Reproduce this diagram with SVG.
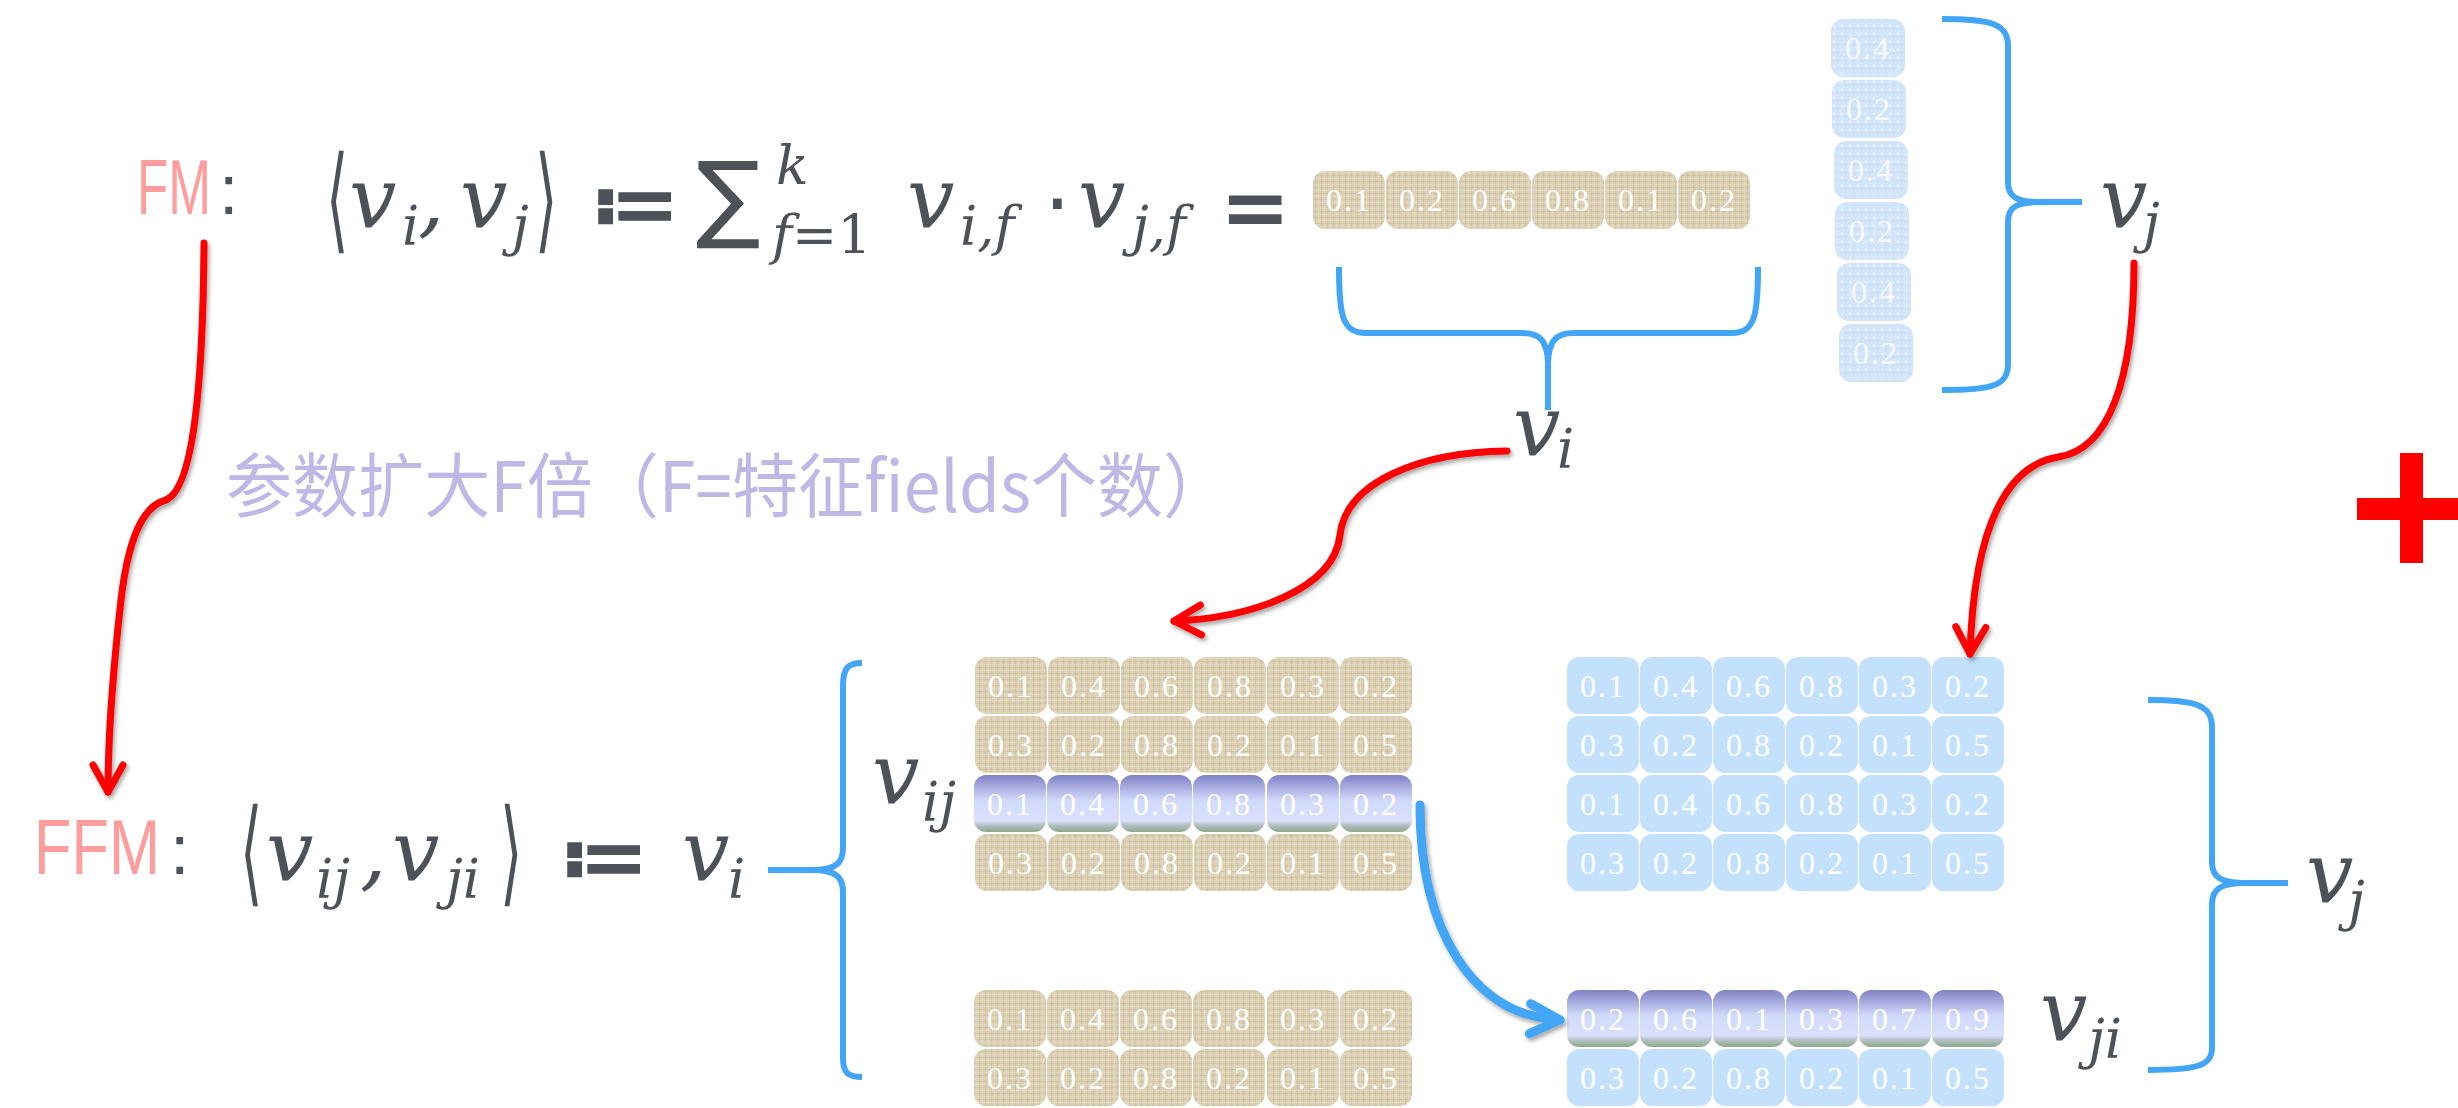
<svg xmlns="http://www.w3.org/2000/svg" width="2458" height="1108" viewBox="0 0 2458 1108">
<defs>
<style>
.pink{font-family:"Liberation Sans",sans-serif;font-size:78px;fill:#ff9c9c}
.col{font-family:"Liberation Sans",sans-serif;font-size:70px;fill:#4d5259}
.m{font-family:"DejaVu Serif",serif;font-style:italic;font-size:84px;fill:#4d5259}
.ms{font-family:"DejaVu Serif",serif;font-style:italic;font-size:54px;fill:#4d5259}
.mu{font-family:"DejaVu Sans",sans-serif;fill:#4d5259}
.n{font-family:"Liberation Serif",serif;font-size:32px;fill:#ffffff;text-anchor:middle;letter-spacing:2px}
.nf{font-family:"Liberation Serif",serif;font-size:32px;fill:#ffffff;fill-opacity:0.8;text-anchor:middle;letter-spacing:2px}
.br{fill:url(#linen)}
.bl{fill:#c3e1fc}
.bf{fill:url(#frost)}
.pu{fill:url(#purp)}
.brace{fill:none;stroke:#42a5f5;stroke-width:6;stroke-linejoin:round}
.red{fill:none;stroke:#ff0000;stroke-width:7;stroke-linecap:round;filter:url(#sh)}
.blue{fill:none;stroke:#42a5f5;stroke-width:9;stroke-linecap:round;filter:url(#sh)}
.cn{font-family:"Noto Sans CJK SC","Noto Sans",sans-serif;font-size:70px;fill:#bfb7e6}
</style>
<pattern id="linen" width="6" height="6" patternUnits="userSpaceOnUse">
<rect width="6" height="6" fill="#dcd1b6"/>
<path d="M0,1.5H6M1.5,0V6" stroke="#c8b994" stroke-width="1" opacity="0.6"/>
<path d="M0,4.5H6M4.5,0V6" stroke="#e6dcc6" stroke-width="1" opacity="0.6"/>
</pattern>
<pattern id="frost" width="8" height="8" patternUnits="userSpaceOnUse">
<rect width="8" height="8" fill="#d3e5f8"/>
<circle cx="2" cy="2" r="1.2" fill="#e6f0fb"/>
<circle cx="6" cy="5" r="1" fill="#c6dcf3"/>
</pattern>
<linearGradient id="purp" x1="0" y1="0" x2="0" y2="1">
<stop offset="0" stop-color="#7f81c3"/>
<stop offset="0.18" stop-color="#a2a6dc"/>
<stop offset="0.45" stop-color="#d2dafb"/>
<stop offset="0.8" stop-color="#d8e0fd"/>
<stop offset="0.88" stop-color="#b3c1c2"/>
<stop offset="1" stop-color="#8ea68f"/>
</linearGradient>
<filter id="sh" x="-20%" y="-20%" width="140%" height="140%">
<feDropShadow dx="2" dy="3" stdDeviation="2" flood-color="#000" flood-opacity="0.35"/>
</filter>
<marker id="rh" markerUnits="userSpaceOnUse" viewBox="-40 -30 50 60" markerWidth="50" markerHeight="60" refX="0" refY="0" orient="auto" overflow="visible">
<path d="M-27,-15L0,0L-27,15" fill="none" stroke="#ff0000" stroke-width="7" stroke-linecap="round" stroke-linejoin="round"/>
</marker>
<marker id="bh" markerUnits="userSpaceOnUse" viewBox="-40 -30 50 60" markerWidth="50" markerHeight="60" refX="0" refY="0" orient="auto" overflow="visible">
<path d="M-30,-15L0,0L-30,15" fill="none" stroke="#42a5f5" stroke-width="9" stroke-linecap="round" stroke-linejoin="round"/>
</marker>
</defs>
<rect width="2458" height="1108" fill="#ffffff"/>

<g id="fm-formula">
<text class="pink" x="137" y="214" textLength="74" lengthAdjust="spacingAndGlyphs">FM</text>
<text class="col" x="219" y="214">:</text>
<text class="mu" font-size="115" transform="translate(326,238) scale(0.5,1)">⟨</text>
<text class="m" x="349" y="227">v</text>
<text class="ms" x="402" y="245">i</text>
<text class="m" x="418" y="227">,</text>
<text class="m" x="460" y="227">v</text>
<text class="ms" x="512" y="245">j</text>
<text class="mu" font-size="115" transform="translate(535,238) scale(0.5,1)">⟩</text>
<text class="mu" font-size="84" font-weight="bold" x="590" y="233">≔</text>
<text class="mu" font-size="96" x="696" y="230">∑</text>
<text class="ms" x="776" y="184">k</text>
<text class="ms" font-size="60" x="772" y="254">f<tspan font-style="normal">=1</tspan></text>
<text class="m" x="907" y="227">v</text>
<text class="ms" x="960" y="245">i,f</text>
<text class="mu" font-size="84" x="1044" y="233">·</text>
<text class="m" x="1078" y="227">v</text>
<text class="ms" x="1132" y="245">j,f</text>
<text class="mu" font-size="84" font-weight="bold" x="1220" y="236">=</text>
</g>

<g id="vi-vector">
<rect class="br" x="1313" y="171" width="72" height="58" rx="12"/>
<rect class="br" x="1386" y="171" width="72" height="58" rx="12"/>
<rect class="br" x="1459" y="171" width="72" height="58" rx="12"/>
<rect class="br" x="1532" y="171" width="72" height="58" rx="12"/>
<rect class="br" x="1605" y="171" width="72" height="58" rx="12"/>
<rect class="br" x="1678" y="171" width="72" height="58" rx="12"/>
<text class="n" x="1349" y="211">0.1</text>
<text class="n" x="1422" y="211">0.2</text>
<text class="n" x="1495" y="211">0.6</text>
<text class="n" x="1568" y="211">0.8</text>
<text class="n" x="1641" y="211">0.1</text>
<text class="n" x="1714" y="211">0.2</text>
</g>

<g id="vj-vector">
<rect class="bf" x="1831" y="19" width="74" height="58" rx="12"/>
<rect class="bf" x="1832" y="80" width="74" height="58" rx="12"/>
<rect class="bf" x="1834" y="141" width="74" height="58" rx="12"/>
<rect class="bf" x="1835" y="202" width="74" height="58" rx="12"/>
<rect class="bf" x="1837" y="263" width="74" height="58" rx="12"/>
<rect class="bf" x="1839" y="324" width="74" height="58" rx="12"/>
<text class="nf" x="1868" y="59">0.4</text>
<text class="nf" x="1869" y="120">0.2</text>
<text class="nf" x="1871" y="181">0.4</text>
<text class="nf" x="1872" y="242">0.2</text>
<text class="nf" x="1874" y="303">0.4</text>
<text class="nf" x="1876" y="364">0.2</text>
</g>

<g id="label-vi-top">
<text class="m" font-size="72" x="1513" y="455">v</text>
<text class="ms" font-size="46" x="1557" y="468">i</text>
</g>
<g id="label-vj-top">
<text class="m" font-size="72" x="2100" y="227">v</text>
<text class="ms" font-size="46" x="2143" y="242">j</text>
</g>

<g id="note">
<text class="cn" x="226" y="512" textLength="1003" lengthAdjust="spacingAndGlyphs">参数扩大F倍（F=特征fields个数）</text>
</g>

<g id="plus">
<rect x="2400" y="453" width="23" height="110" fill="#ff0000"/>
<rect x="2357" y="498" width="101" height="22" fill="#ff0000"/>
</g>

<g id="ffm-formula">
<text class="pink" x="34" y="874" textLength="126" lengthAdjust="spacingAndGlyphs">FFM</text>
<text class="col" x="170" y="874">:</text>
<text class="mu" font-size="115" transform="translate(240,891) scale(0.5,1)">⟨</text>
<text class="m" x="266" y="880">v</text>
<text class="ms" x="316" y="898">ij</text>
<text class="m" x="360" y="880">,</text>
<text class="m" x="392" y="880">v</text>
<text class="ms" x="446" y="898">ji</text>
<text class="mu" font-size="115" transform="translate(500,891) scale(0.5,1)">⟩</text>
<text class="mu" font-size="84" font-weight="bold" x="559" y="886">≔</text>
<text class="m" font-size="76" x="682" y="880">v</text>
<text class="ms" font-size="48" x="728" y="898">i</text>
</g>

<g id="vij-matrix">
<rect class="br" x="975" y="657" width="72" height="57" rx="12"/>
<rect class="br" x="1048" y="657" width="72" height="57" rx="12"/>
<rect class="br" x="1121" y="657" width="72" height="57" rx="12"/>
<rect class="br" x="1194" y="657" width="72" height="57" rx="12"/>
<rect class="br" x="1267" y="657" width="72" height="57" rx="12"/>
<rect class="br" x="1340" y="657" width="72" height="57" rx="12"/>
<rect class="br" x="975" y="716" width="72" height="57" rx="12"/>
<rect class="br" x="1048" y="716" width="72" height="57" rx="12"/>
<rect class="br" x="1121" y="716" width="72" height="57" rx="12"/>
<rect class="br" x="1194" y="716" width="72" height="57" rx="12"/>
<rect class="br" x="1267" y="716" width="72" height="57" rx="12"/>
<rect class="br" x="1340" y="716" width="72" height="57" rx="12"/>
<rect class="pu" x="974" y="775" width="72" height="57" rx="12"/>
<rect class="pu" x="1047" y="775" width="72" height="57" rx="12"/>
<rect class="pu" x="1120" y="775" width="72" height="57" rx="12"/>
<rect class="pu" x="1193" y="775" width="72" height="57" rx="12"/>
<rect class="pu" x="1267" y="775" width="72" height="57" rx="12"/>
<rect class="pu" x="1340" y="775" width="72" height="57" rx="12"/>
<rect class="br" x="975" y="834" width="72" height="57" rx="12"/>
<rect class="br" x="1048" y="834" width="72" height="57" rx="12"/>
<rect class="br" x="1121" y="834" width="72" height="57" rx="12"/>
<rect class="br" x="1194" y="834" width="72" height="57" rx="12"/>
<rect class="br" x="1267" y="834" width="72" height="57" rx="12"/>
<rect class="br" x="1340" y="834" width="72" height="57" rx="12"/>
<rect class="br" x="974" y="990" width="72" height="57" rx="12"/>
<rect class="br" x="1047" y="990" width="72" height="57" rx="12"/>
<rect class="br" x="1120" y="990" width="72" height="57" rx="12"/>
<rect class="br" x="1193" y="990" width="72" height="57" rx="12"/>
<rect class="br" x="1267" y="990" width="72" height="57" rx="12"/>
<rect class="br" x="1340" y="990" width="72" height="57" rx="12"/>
<rect class="br" x="974" y="1049" width="72" height="57" rx="12"/>
<rect class="br" x="1047" y="1049" width="72" height="57" rx="12"/>
<rect class="br" x="1120" y="1049" width="72" height="57" rx="12"/>
<rect class="br" x="1193" y="1049" width="72" height="57" rx="12"/>
<rect class="br" x="1267" y="1049" width="72" height="57" rx="12"/>
<rect class="br" x="1340" y="1049" width="72" height="57" rx="12"/>
<text class="n" x="1011" y="697">0.1</text><text class="n" x="1084" y="697">0.4</text><text class="n" x="1157" y="697">0.6</text><text class="n" x="1230" y="697">0.8</text><text class="n" x="1303" y="697">0.3</text><text class="n" x="1376" y="697">0.2</text>
<text class="n" x="1011" y="756">0.3</text><text class="n" x="1084" y="756">0.2</text><text class="n" x="1157" y="756">0.8</text><text class="n" x="1230" y="756">0.2</text><text class="n" x="1303" y="756">0.1</text><text class="n" x="1376" y="756">0.5</text>
<text class="n" x="1010" y="815">0.1</text><text class="n" x="1083" y="815">0.4</text><text class="n" x="1156" y="815">0.6</text><text class="n" x="1229" y="815">0.8</text><text class="n" x="1303" y="815">0.3</text><text class="n" x="1376" y="815">0.2</text>
<text class="n" x="1011" y="874">0.3</text><text class="n" x="1084" y="874">0.2</text><text class="n" x="1157" y="874">0.8</text><text class="n" x="1230" y="874">0.2</text><text class="n" x="1303" y="874">0.1</text><text class="n" x="1376" y="874">0.5</text>
<text class="n" x="1010" y="1030">0.1</text><text class="n" x="1083" y="1030">0.4</text><text class="n" x="1156" y="1030">0.6</text><text class="n" x="1229" y="1030">0.8</text><text class="n" x="1303" y="1030">0.3</text><text class="n" x="1376" y="1030">0.2</text>
<text class="n" x="1010" y="1089">0.3</text><text class="n" x="1083" y="1089">0.2</text><text class="n" x="1156" y="1089">0.8</text><text class="n" x="1229" y="1089">0.2</text><text class="n" x="1303" y="1089">0.1</text><text class="n" x="1376" y="1089">0.5</text>
</g>

<g id="label-vij">
<text class="m" x="872" y="803">v</text>
<text class="ms" x="922" y="821">ij</text>
</g>

<g id="vji-matrix">
<rect class="bl" x="1567" y="657" width="72" height="57" rx="12"/>
<rect class="bl" x="1640" y="657" width="72" height="57" rx="12"/>
<rect class="bl" x="1713" y="657" width="72" height="57" rx="12"/>
<rect class="bl" x="1786" y="657" width="72" height="57" rx="12"/>
<rect class="bl" x="1859" y="657" width="72" height="57" rx="12"/>
<rect class="bl" x="1932" y="657" width="72" height="57" rx="12"/>
<rect class="bl" x="1567" y="716" width="72" height="57" rx="12"/>
<rect class="bl" x="1640" y="716" width="72" height="57" rx="12"/>
<rect class="bl" x="1713" y="716" width="72" height="57" rx="12"/>
<rect class="bl" x="1786" y="716" width="72" height="57" rx="12"/>
<rect class="bl" x="1859" y="716" width="72" height="57" rx="12"/>
<rect class="bl" x="1932" y="716" width="72" height="57" rx="12"/>
<rect class="bl" x="1567" y="775" width="72" height="57" rx="12"/>
<rect class="bl" x="1640" y="775" width="72" height="57" rx="12"/>
<rect class="bl" x="1713" y="775" width="72" height="57" rx="12"/>
<rect class="bl" x="1786" y="775" width="72" height="57" rx="12"/>
<rect class="bl" x="1859" y="775" width="72" height="57" rx="12"/>
<rect class="bl" x="1932" y="775" width="72" height="57" rx="12"/>
<rect class="bl" x="1567" y="834" width="72" height="57" rx="12"/>
<rect class="bl" x="1640" y="834" width="72" height="57" rx="12"/>
<rect class="bl" x="1713" y="834" width="72" height="57" rx="12"/>
<rect class="bl" x="1786" y="834" width="72" height="57" rx="12"/>
<rect class="bl" x="1859" y="834" width="72" height="57" rx="12"/>
<rect class="bl" x="1932" y="834" width="72" height="57" rx="12"/>
<rect class="pu" x="1567" y="990" width="72" height="57" rx="12"/>
<rect class="pu" x="1640" y="990" width="72" height="57" rx="12"/>
<rect class="pu" x="1713" y="990" width="72" height="57" rx="12"/>
<rect class="pu" x="1786" y="990" width="72" height="57" rx="12"/>
<rect class="pu" x="1859" y="990" width="72" height="57" rx="12"/>
<rect class="pu" x="1932" y="990" width="72" height="57" rx="12"/>
<rect class="bl" x="1567" y="1049" width="72" height="57" rx="12"/>
<rect class="bl" x="1640" y="1049" width="72" height="57" rx="12"/>
<rect class="bl" x="1713" y="1049" width="72" height="57" rx="12"/>
<rect class="bl" x="1786" y="1049" width="72" height="57" rx="12"/>
<rect class="bl" x="1859" y="1049" width="72" height="57" rx="12"/>
<rect class="bl" x="1932" y="1049" width="72" height="57" rx="12"/>
<text class="n" x="1603" y="697">0.1</text><text class="n" x="1676" y="697">0.4</text><text class="n" x="1749" y="697">0.6</text><text class="n" x="1822" y="697">0.8</text><text class="n" x="1895" y="697">0.3</text><text class="n" x="1968" y="697">0.2</text>
<text class="n" x="1603" y="756">0.3</text><text class="n" x="1676" y="756">0.2</text><text class="n" x="1749" y="756">0.8</text><text class="n" x="1822" y="756">0.2</text><text class="n" x="1895" y="756">0.1</text><text class="n" x="1968" y="756">0.5</text>
<text class="n" x="1603" y="815">0.1</text><text class="n" x="1676" y="815">0.4</text><text class="n" x="1749" y="815">0.6</text><text class="n" x="1822" y="815">0.8</text><text class="n" x="1895" y="815">0.3</text><text class="n" x="1968" y="815">0.2</text>
<text class="n" x="1603" y="874">0.3</text><text class="n" x="1676" y="874">0.2</text><text class="n" x="1749" y="874">0.8</text><text class="n" x="1822" y="874">0.2</text><text class="n" x="1895" y="874">0.1</text><text class="n" x="1968" y="874">0.5</text>
<text class="n" x="1603" y="1030">0.2</text><text class="n" x="1676" y="1030">0.6</text><text class="n" x="1749" y="1030">0.1</text><text class="n" x="1822" y="1030">0.3</text><text class="n" x="1895" y="1030">0.7</text><text class="n" x="1968" y="1030">0.9</text>
<text class="n" x="1603" y="1089">0.3</text><text class="n" x="1676" y="1089">0.2</text><text class="n" x="1749" y="1089">0.8</text><text class="n" x="1822" y="1089">0.2</text><text class="n" x="1895" y="1089">0.1</text><text class="n" x="1968" y="1089">0.5</text>
</g>

<g id="label-vji">
<text class="m" x="2040" y="1040">v</text>
<text class="ms" x="2088" y="1058">ji</text>
</g>
<g id="label-vj-bottom">
<text class="m" x="2306" y="902">v</text>
<text class="ms" x="2348" y="920">j</text>
</g>

<g id="connectors">
<path class="brace" d="M1339,267C1339,315 1342,333 1366,333L1522,333C1541,333 1547,342 1548,362L1548,410M1548,362C1549,342 1555,333 1574,333L1732,333C1755,333 1758,315 1758,267"/>
<path class="brace" d="M1942,19C1992,19 2008,24 2008,46L2008,182C2008,198 2018,202 2040,202L2082,202M2040,202C2018,202 2008,206 2008,222L2008,364C2008,386 1992,390 1942,390"/>
<path class="brace" d="M862,663C848,663 843,668 843,686L843,848C843,863 836,870 812,870L768,870M812,870C836,870 843,877 843,892L843,1058C843,1073 848,1077 862,1077"/>
<path class="brace" d="M2148,700C2196,700 2212,705 2212,727L2212,862C2212,878 2222,883 2246,883L2288,883M2246,883C2222,883 2212,888 2212,904L2212,1048C2212,1066 2196,1070 2148,1070"/>
<path class="red" marker-end="url(#rh)" d="M204,243C203,380 194,488 166,500C150,504 130,522 121,600C113,670 108,730 108,792"/>
<path class="red" marker-end="url(#rh)" d="M1507,451C1420,452 1346,482 1340,535C1334,590 1250,618 1174,621"/>
<path class="red" marker-end="url(#rh)" d="M2134,263C2134,382 2108,450 2058,457C2010,465 1974,520 1970,654"/>
<path class="blue" marker-end="url(#bh)" d="M1420,805C1420,930 1472,1016 1560,1020"/>
</g>
</svg>
